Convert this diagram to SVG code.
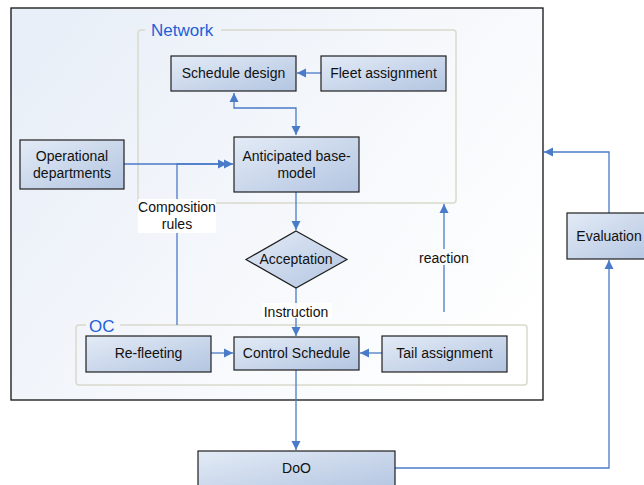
<svg xmlns="http://www.w3.org/2000/svg" width="644" height="485" viewBox="0 0 644 485">
<defs>
<linearGradient id="bg" x1="0" y1="0.2" x2="1" y2="0.8">
<stop offset="0" stop-color="#e9eff8"/>
<stop offset="0.6" stop-color="#f7f9fc"/>
<stop offset="1" stop-color="#ffffff"/>
</linearGradient>
<linearGradient id="box" x1="0" y1="0" x2="1" y2="1">
<stop offset="0" stop-color="#e3ebf6"/>
<stop offset="1" stop-color="#b3c5e1"/>
</linearGradient>
<marker id="ah" markerWidth="10" markerHeight="10" refX="9" refY="5" orient="auto" markerUnits="userSpaceOnUse">
<path d="M0,0.5 L9,5 L0,9.5 Z" fill="#4a7bc8"/>
</marker>
<marker id="as" markerWidth="10" markerHeight="10" refX="1" refY="5" orient="auto" markerUnits="userSpaceOnUse">
<path d="M10,0.5 L1,5 L10,9.5 Z" fill="#4a7bc8"/>
</marker>
</defs>
<style>
.b{fill:url(#box);stroke:#1e1e1e;stroke-width:1.2}
.t{font-family:"Liberation Sans",Arial,sans-serif;font-size:14px;fill:#111;text-anchor:middle}
.g{fill:none;stroke:#d9d9cc;stroke-width:1.5}
.gl{font-family:"Liberation Sans",Arial,sans-serif;font-size:17px;fill:#1f5fd6}
.c{fill:none;stroke:#4a7bc8;stroke-width:1.3}
.a{marker-end:url(#ah)}
</style>
<rect x="0" y="0" width="644" height="485" fill="#ffffff"/>
<rect id="frame" x="11" y="8" width="532" height="392" fill="url(#bg)" stroke="#111" stroke-width="1.3"/>
<g id="network">
<path class="g" d="M145,30 L141,30 Q138,30 138,33 L138,200 Q138,203 141,203 L453,203 Q456,203 456,200 L456,33 Q456,30 453,30 L221,30"/>
<text class="gl" x="151" y="36">Network</text>
</g>
<g id="oc">
<path class="g" d="M86,325 L79,325 Q76,325 76,328 L76,382 Q76,385 79,385 L524,385 Q527,385 527,382 L527,328 Q527,325 524,325 L120,325"/>
<text class="gl" x="89" y="332">OC</text>
</g>
<g id="connectors">
<path class="c a" d="M321,73 L297,73"/>
<path class="c" d="M234,93 L234,108 L296,108 L296,135" marker-start="url(#as)" marker-end="url(#ah)"/>
<path class="c a" d="M124,164 L227,164"/>
<path class="c a" d="M177,325 L177,164 L233,164"/>
<path class="c a" d="M296,192 L296,230"/>
<path class="c a" d="M296,288 L296,336"/>
<path class="c a" d="M211,353 L233,353"/>
<path class="c a" d="M382,353 L360,353"/>
<path class="c a" d="M444,312 L444,204"/>
<path class="c a" d="M296,370 L296,450"/>
<path class="c a" d="M395,468 L609,468 L609,260"/>
<path class="c a" d="M609,213 L609,152 L544,152"/>
<rect x="138" y="199" width="78" height="34" fill="#ffffff"/>
<text class="t" x="177" y="212">Composition</text>
<text class="t" x="177" y="229">rules</text>
<rect x="262" y="303" width="70" height="15" fill="#ffffff" fill-opacity="0.9"/>
<text class="t" x="296" y="317">Instruction</text>
<rect x="415" y="249" width="58" height="16" fill="#f9fafc"/>
<text class="t" x="444" y="263">reaction</text>
</g>
<g id="schedule-design">
<rect class="b" x="171" y="56" width="125" height="35"/>
<text class="t" x="233.5" y="78">Schedule design</text>
</g>
<g id="fleet-assignment">
<rect class="b" x="321" y="56" width="125" height="35"/>
<text class="t" x="383.5" y="78">Fleet assignment</text>
</g>
<g id="anticipated">
<rect class="b" x="234" y="137" width="125" height="55"/>
<text class="t" x="296.5" y="161">Anticipated base-</text>
<text class="t" x="296.5" y="178">model</text>
</g>
<g id="operational">
<rect class="b" x="20" y="140" width="104" height="49"/>
<text class="t" x="72" y="161">Operational</text>
<text class="t" x="72" y="178">departments</text>
</g>
<g id="acceptation">
<polygon class="b" points="296,231 347,259.5 296,288 246,259.5"/>
<text class="t" x="296" y="264">Acceptation</text>
</g>
<g id="re-fleeting">
<rect class="b" x="86" y="336" width="125" height="36"/>
<text class="t" x="148.5" y="358">Re-fleeting</text>
</g>
<g id="control-schedule">
<rect class="b" x="234" y="337" width="125" height="33"/>
<text class="t" x="296.5" y="358">Control Schedule</text>
</g>
<g id="tail-assignment">
<rect class="b" x="382" y="336" width="125" height="36"/>
<text class="t" x="444.5" y="358">Tail assignment</text>
</g>
<g id="doo">
<rect class="b" x="198" y="451" width="197" height="40"/>
<text class="t" x="296.5" y="473">DoO</text>
</g>
<g id="evaluation">
<rect class="b" x="567" y="213" width="90" height="46"/>
<text class="t" x="609" y="241">Evaluation</text>
</g>
</svg>
